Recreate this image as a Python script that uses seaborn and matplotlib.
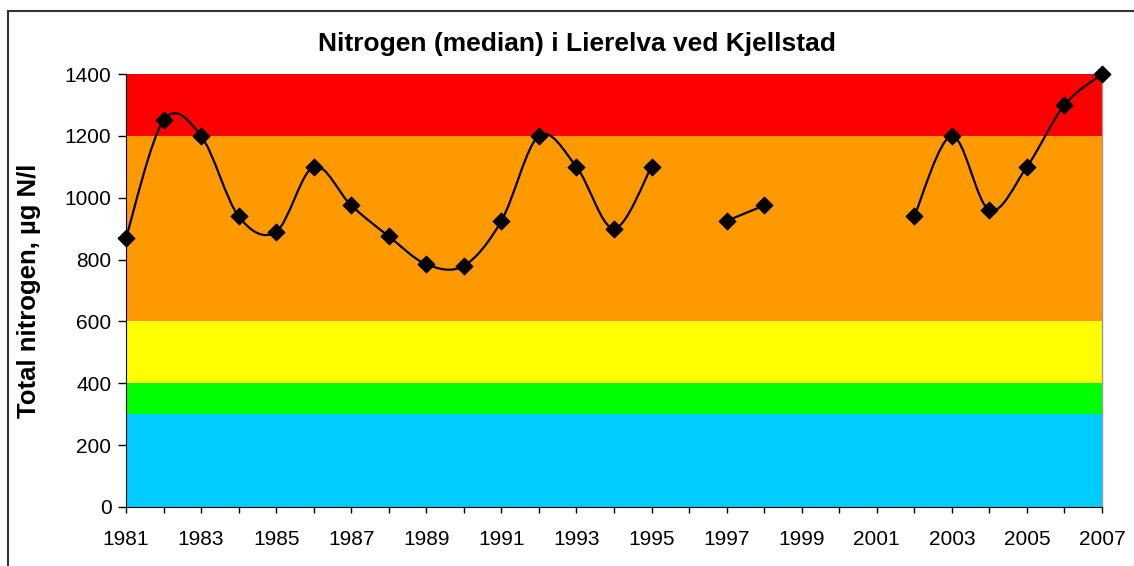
"""
Nitrogen (median) i Lierelva ved Kjellstad - recreated with seaborn/matplotlib
"""

import matplotlib
matplotlib.use('Agg')
import matplotlib.pyplot as plt
from matplotlib.path import Path
from matplotlib.patches import PathPatch, Rectangle
import seaborn as sns
import numpy as np
import pandas as pd

# Data
years = list(range(1981, 2008))
nitrogen = [870, 1250, 1200, 940, 890, 1100, 975, 875, 785, 780,
            925, 1200, 1100, 900, 1100, np.nan, 925, 975, np.nan, np.nan,
            np.nan, 940, 1200, 960, 1100, 1300, 1400]

# Classification bands (lower edge, upper edge) and colours
band_edges = [0, 300, 400, 600, 1200, 1400]
band_colors = ['#00CCFF', '#00FF00', '#FFFF00', '#FF9900', '#FF0000']

y_ticks = [0, 200, 400, 600, 800, 1000, 1200, 1400]
x_labels = list(range(1981, 2008, 2))

title = 'Nitrogen (median) i Lierelva ved Kjellstad'
y_label = 'Total nitrogen, µg N/l'

df = pd.DataFrame({'year': years, 'value': nitrogen})

sns.set_style('ticks')
plt.rcParams['font.family'] = ['Liberation Sans', 'DejaVu Sans']
plt.rcParams['text.color'] = 'black'
plt.rcParams['xtick.color'] = 'black'
plt.rcParams['ytick.color'] = 'black'
plt.rcParams['axes.labelcolor'] = 'black'

W, H = 1134, 566
fig = plt.figure(figsize=(W / 100, H / 100), dpi=100)

# outer chart frame (clipped at right and bottom like the reference)
fig.patches.append(Rectangle((8 / W, -0.05), 1.1, 1 - 11 / H + 0.05,
                             transform=fig.transFigure, fill=False,
                             edgecolor='#333333', linewidth=1.5))

ax = fig.add_axes([126 / W, 59 / H, (1102 - 126) / W, (507 - 74) / H])

for lo, hi, c in zip(band_edges[:-1], band_edges[1:], band_colors):
    ax.axhspan(lo, hi, color=c, zorder=0, linewidth=0)


def smooth_path(xs, ys):
    # Bezier smoothing similar to spreadsheet "smoothed line"
    verts = [(xs[0], ys[0])]
    codes = [Path.MOVETO]
    n = len(xs)
    for i in range(n - 1):
        p0 = np.array([xs[max(i - 1, 0)], ys[max(i - 1, 0)]])
        p1 = np.array([xs[i], ys[i]])
        p2 = np.array([xs[i + 1], ys[i + 1]])
        p3 = np.array([xs[min(i + 2, n - 1)], ys[min(i + 2, n - 1)]])
        c1 = p1 + (p2 - p0) / 6.0
        c2 = p2 - (p3 - p1) / 6.0
        verts += [tuple(c1), tuple(c2), tuple(p2)]
        codes += [Path.CURVE4] * 3
    return Path(verts, codes)


# split into continuous runs
valid = df['value'].notna()
run_id = (~valid).cumsum()
for _, run in df[valid].groupby(run_id[valid]):
    xs = run['year'].to_numpy(dtype=float)
    ys = run['value'].to_numpy(dtype=float)
    if len(xs) > 1:
        ax.add_patch(PathPatch(smooth_path(xs, ys), fill=False,
                               edgecolor='black', linewidth=1.6, zorder=3,
                               clip_on=False))

sns.scatterplot(data=df, x='year', y='value', marker='D', color='black',
                s=75, edgecolor='black', zorder=4, clip_on=False, ax=ax,
                legend=False)

ax.set_xlim(1981, 2007)
ax.set_ylim(0, 1400)
ax.set_xticks(years, minor=True)
ax.set_xticks(x_labels)
ax.set_xticklabels([str(y) for y in x_labels], fontsize=15)
ax.set_yticks(y_ticks)
ax.set_yticklabels([str(v) for v in y_ticks], fontsize=15)
ax.tick_params(axis='both', which='both', direction='out', width=1,
               color='black')
ax.tick_params(axis='x', which='both', length=4.5, pad=12)
ax.tick_params(axis='y', which='both', length=5.5, pad=5)

ax.set_xlabel('')
ax.set_ylabel('')
fig.text(577 / W, 1 - 44 / H, title, fontsize=19, fontweight='bold',
         ha='center', va='center')
fig.text(29 / W, 1 - 291 / H, y_label, fontsize=18.5, fontweight='bold',
         rotation=90, ha='center', va='center')

ax.spines['top'].set_visible(False)
ax.spines['right'].set_color('#999999')
ax.spines['right'].set_linewidth(1)
ax.spines['left'].set_color('black')
ax.spines['bottom'].set_color('black')

plt.savefig('out.png', dpi=100)
plt.close()
